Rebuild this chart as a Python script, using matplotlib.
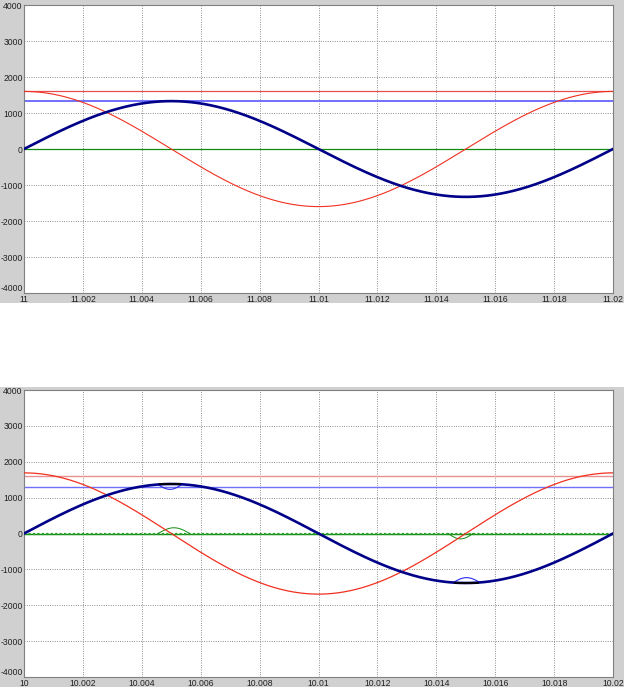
import numpy as np
import matplotlib
matplotlib.use("Agg")
import matplotlib.pyplot as plt
from matplotlib.patches import Rectangle

# ---------------- data ----------------
freq_hz = 50.0
# top panel
top_t0 = 11.0
top_red_amp = 1600          # red cosine amplitude
top_blue_amp = 1330         # thick navy sine amplitude
top_red_level = 1600        # red horizontal reference
top_blue_level = 1320       # blue horizontal reference
top_green_level = 0

# bottom panel
bot_t0 = 10.0
bot_red_amp = 1690
bot_blue_amp = 1380
bot_red_level = 1600
bot_blue_level = 1310
bot_green_level = 0
# local deviations near the peaks: (start offset s, end offset s, height)
bot_blue_arcs = [(0.00455, 0.00537, -150), (0.01457, 0.01548, 150)]
bot_green_bumps = [(0.00455, 0.00563, 160), (0.01440, 0.01525, -150)]
bot_black_segs = [(0.00462, 0.00530, 1380), (0.01462, 0.01540, -1380)]

x_tick_offsets = [0, 0.002, 0.004, 0.006, 0.008, 0.010, 0.012, 0.014, 0.016, 0.018, 0.020]
top_xtick_labels = ["11", "11.002", "11.004", "11.006", "11.008", "11.01", "11.012",
                    "11.014", "11.016", "11.018", "11.02"]
bot_xtick_labels = ["10", "10.002", "10.004", "10.006", "10.008", "10.01", "10.012",
                    "10.014", "10.016", "10.018", "10.02"]
y_ticks = [-4000, -3000, -2000, -1000, 0, 1000, 2000, 3000, 4000]
y_tick_labels = ["-4000", "-3000", "-2000", "-1000", "0", "1000", "2000", "3000", "4000"]

# ---------------- styling ----------------
plt.rcParams["font.family"] = ["Liberation Sans", "DejaVu Sans"]
W, H = 624, 687
fig = plt.figure(figsize=(W / 100, H / 100), dpi=100, facecolor="white")

grey = "#d0d0d0"
# grey panel backgrounds
fig.patches.append(Rectangle((0, 1 - 303 / H), 1, 303 / H, transform=fig.transFigure,
                             facecolor=grey, edgecolor="none", zorder=-10))
fig.patches.append(Rectangle((0, 0), 1, (H - 387) / H, transform=fig.transFigure,
                             facecolor=grey, edgecolor="none", zorder=-10))

left = 24 / W
width = 589 / W
ax_top = fig.add_axes([left, 1 - 293 / H, width, 288 / H])
ax_bot = fig.add_axes([left, 1 - 677 / H, width, 287 / H])

red = "#f03020"
navy = "#000088"
hblue = "#7070ff"
green = "#108a10"


def setup(ax, t0, labels):
    ax.set_facecolor("white")
    ax.set_xlim(t0, t0 + 0.02)
    ax.set_ylim(-4000, 4000)
    ax.set_xticks([t0 + o for o in x_tick_offsets])
    ax.set_xticklabels(labels)
    ax.set_yticks(y_ticks)
    ax.set_yticklabels(y_tick_labels)
    ax.tick_params(axis="both", labelsize=6.2, length=0, pad=1.0, colors="#202020")
    ax.tick_params(axis="x", pad=1.5)
    ax.grid(True, color="#6a6a6a", linestyle=(0, (1, 1.8)), linewidth=0.6)
    ax.set_axisbelow(True)
    for s in ax.spines.values():
        s.set_color("#808080")
        s.set_linewidth(0.8)
    # lowest y label sits just above the x labels, as in the scope display
    ylabs = ax.get_yticklabels()
    ylabs[0].set_verticalalignment("bottom")


def bump(t_rel, start, end, height):
    out = np.zeros_like(t_rel)
    m = (t_rel >= start) & (t_rel <= end)
    out[m] = height * np.sin(np.pi * (t_rel[m] - start) / (end - start))
    return out


# ---------------- top panel ----------------
setup(ax_top, top_t0, top_xtick_labels)
tt = np.linspace(top_t0, top_t0 + 0.02, 1001)
tr = tt - top_t0
w = 2 * np.pi * freq_hz
ax_top.axhline(top_green_level, color=green, lw=0.9, zorder=2)
ax_top.axhline(top_red_level, color="#e85050", lw=0.9, zorder=2)
ax_top.axhline(top_blue_level, color=hblue, lw=1.4, zorder=2)
ax_top.plot(tt, top_red_amp * np.cos(w * tr), color=red, lw=0.8, zorder=3)
ax_top.plot(tt, top_blue_amp * np.sin(w * tr), color=navy, lw=1.9, zorder=4)

# ---------------- bottom panel ----------------
setup(ax_bot, bot_t0, bot_xtick_labels)
tb = np.linspace(bot_t0, bot_t0 + 0.02, 2001)
rb = tb - bot_t0
ax_bot.axhline(bot_red_level, color="#e89090", lw=1.0, zorder=2)
ax_bot.axhline(bot_blue_level, color=hblue, lw=1.0, zorder=2)
ax_bot.axhline(bot_green_level, color=green, lw=1.0, zorder=2)
ax_bot.axhline(bot_green_level, color="#2aa02a", lw=1.6, linestyle=(0, (1, 1)), zorder=2)
green_dev = np.zeros_like(rb)
for s, e, h in bot_green_bumps:
    green_dev += bump(rb, s, e, h)
gd = np.where(green_dev != 0, green_dev, np.nan)
ax_bot.plot(tb, gd, color=green, lw=0.7, zorder=3)
ax_bot.plot(tb, bot_red_amp * np.cos(w * rb), color=red, lw=0.9, zorder=3)
blue_main = bot_blue_amp * np.sin(w * rb)
blue_dev = np.zeros_like(rb)
for s, e, h in bot_blue_arcs:
    blue_dev += bump(rb, s, e, h)
arc = np.where(blue_dev != 0, blue_main + blue_dev, np.nan)
ax_bot.plot(tb, arc, color="#2a2aee", lw=0.8, zorder=4)
ax_bot.plot(tb, blue_main, color=navy, lw=1.9, zorder=4)
for s, e, v in bot_black_segs:
    ax_bot.plot([bot_t0 + s, bot_t0 + e], [v, v], color="black", lw=1.3, zorder=5)

fig.savefig("out.png", dpi=100, facecolor="white")
